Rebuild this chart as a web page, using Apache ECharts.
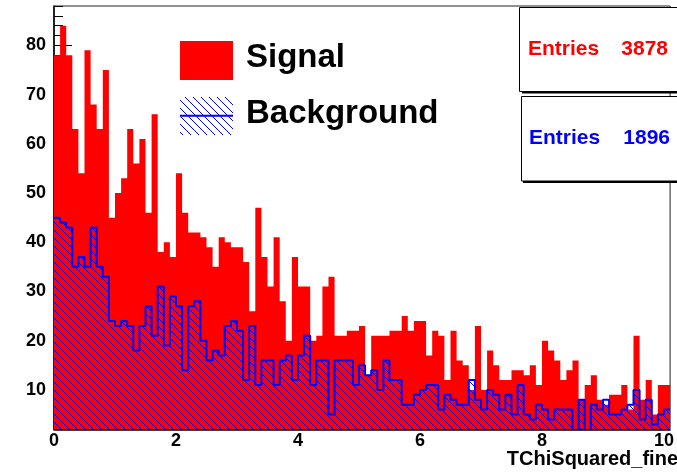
<!DOCTYPE html>
<html>
<head>
<meta charset="utf-8">
<script src="https://cdn.jsdelivr.net/npm/echarts@6/dist/echarts.min.js"></script>
<style>
html,body{margin:0;padding:0;background:#fff;}
#c{width:677px;height:473px;}
</style>
</head>
<body>
<div id="c"></div>
<script>
// ---- data ----
const binStart = 0;      // low edge of first bin
const binWidth = 0.1;    // TChiSquared_fine bin width
const signal = [
  78,84,78,63,54,79,68,63,75,45,
  50,53,63,56,61,46,66,38,40,37,
  54,46,42,42,41,39,35,41,40,39,
  39,36,26,47,37,31,41,28,20,37,
  31,31,20,21,31,33,21,21,22,22,
  23,13,21,21,21,22,22,25,22,24,
  24,17,22,21,12,22,16,15,10,23,
  10,18,15,12,12,14,14,13,15,11,
  20,18,16,12,14,16,8,11,13,8,
  7,9,9,11,6,21,8,12,5,11,
  11
];
const background = [
  45,44,43,35,37,35,43,35,33,24,
  23,24,23,18,23,27,21,31,19,29,
  27,14,27,28,20,16,18,17,23,24,
  22,12,23,11,16,16,11,16,17,12,
  17,21,11,16,16,5,16,16,16,11,
  15,13,14,10,16,12,12,7,7,9,
  10,11,11,6,9,8,7,7,12,8,
  6,10,9,6,9,5,11,5,4,7,
  6,4,6,6,6,0,8,0,7,6,
  8,5,5,6,7,10,4,8,3,5,
  6
];
const xTickLabels = [0, 2, 4, 6, 8, 10];
const yTickLabels = [10, 20, 30, 40, 50, 60, 70, 80];
const signalEntries = 3878;
const backgroundEntries = 1896;
const legendNames = ['Signal', 'Background'];
const xTitle = 'TChiSquared_fine';

// ---- build step data from bins ----
function stepData(vals) {
  const d = vals.map((v, i) => [+(binStart + i * binWidth).toFixed(4), v]);
  d.push([+(binStart + vals.length * binWidth).toFixed(4), vals[vals.length - 1]]);
  return d;
}

// hatch pattern (\\\)
function hatch(bg) {
  const s = 8;
  const cv = document.createElement('canvas');
  cv.width = s; cv.height = s;
  const ctx = cv.getContext('2d');
  if (bg) { ctx.fillStyle = bg; ctx.fillRect(0, 0, s, s); }
  ctx.strokeStyle = '#0000ff';
  ctx.lineWidth = 1;
  [-s, 0, s].forEach(o => {
    ctx.beginPath();
    ctx.moveTo(o - 1, -1);
    ctx.lineTo(o + s + 1, s + 1);
    ctx.stroke();
  });
  return cv;
}

const FONT = '"Liberation Sans", Arial, Helvetica, sans-serif';
const xMax = binStart + signal.length * binWidth;
const yMin = 2, yMax = 88;

const minorY = [];
for (let v = yMin; v <= yMax; v += 2) minorY.push(v);
const midX = [1, 3, 5, 7, 9];
const smallX = [0.5, 1.5, 2.5, 3.5, 4.5, 5.5, 6.5, 7.5, 8.5, 9.5];

const chart = echarts.init(document.getElementById('c'), null, {renderer: 'canvas'});
const grid = {left: 54, top: 6, width: 626, height: 423.3, show: true, borderColor: '#222', borderWidth: 1, backgroundColor: 'transparent'};

function xa(ticks, len, labels) {
  return {
    type: 'value', min: binStart, max: xMax, position: 'bottom',
    axisLine: {show: !!labels, onZero: false, lineStyle: {color: '#000', width: 1.5}},
    axisTick: {show: true, inside: true, length: len, customValues: ticks, lineStyle: {color: '#000', width: 1}},
    axisLabel: labels ? {show: true, customValues: ticks, margin: 3, color: '#000', fontFamily: FONT, fontWeight: 'bold', fontSize: 18} : {show: false},
    splitLine: {show: false}
  };
}
function ya(ticks, len, labels) {
  return {
    type: 'value', min: yMin, max: yMax, position: 'left',
    axisLine: {show: !!labels, onZero: false, lineStyle: {color: '#000', width: 1.5}},
    axisTick: {show: true, inside: true, length: len, customValues: ticks, lineStyle: {color: '#000', width: 1}},
    axisLabel: labels ? {show: true, customValues: ticks, margin: 8, color: '#000', fontFamily: FONT, fontWeight: 'bold', fontSize: 18} : {show: false},
    splitLine: {show: false}
  };
}

const option = {
  animation: false,
  backgroundColor: '#fff',
  grid: grid,
  xAxis: [xa(xTickLabels, 14, true), xa(midX, 7, false), xa(smallX, 3.5, false)],
  yAxis: [ya(yTickLabels, 18, true), ya(minorY, 9, false)],
  series: [
    {
      name: legendNames[0], type: 'line', step: 'end', data: stepData(signal),
      symbol: 'none', lineStyle: {width: 0, color: '#ff0000'},
      areaStyle: {color: '#ff0000', opacity: 1, origin: 'start'}, z: 1
    },
    {
      name: legendNames[1], type: 'line', step: 'end', data: stepData(background),
      symbol: 'none', lineStyle: {width: 2, color: '#0000ff'},
      areaStyle: {color: {image: hatch(null), repeat: 'repeat'}, opacity: 1, origin: 'start'}, z: 2
    }
  ],
  graphic: [
    // legend
    {type: 'rect', shape: {x: 180, y: 41, width: 53, height: 39}, style: {fill: '#ff0000'}, z: 10},
    {type: 'text', x: 246, y: 57.6, style: {text: legendNames[0], font: 'bold 33px ' + FONT, fill: '#000', verticalAlign: 'middle', align: 'left'}, z: 10},
    {type: 'rect', shape: {x: 180, y: 97, width: 53, height: 38}, style: {fill: {image: hatch('#ffffff'), repeat: 'repeat'}}, z: 10},
    {type: 'line', shape: {x1: 180, y1: 115.7, x2: 233, y2: 115.7}, style: {stroke: '#0000ff', lineWidth: 2}, z: 11},
    {type: 'text', x: 246, y: 113.6, style: {text: legendNames[1], font: 'bold 33px ' + FONT, fill: '#000', verticalAlign: 'middle', align: 'left'}, z: 10},
    // stats boxes
    {type: 'line', shape: {x1: 522, y1: 92.5, x2: 690, y2: 92.5}, style: {stroke: '#000', lineWidth: 2}, z: 10},
    {type: 'rect', shape: {x: 519.5, y: 7.5, width: 170, height: 84}, style: {fill: '#fff', stroke: '#000', lineWidth: 1}, z: 11},
    {type: 'text', x: 528, y: 49.5, style: {text: 'Entries', font: 'bold 21px ' + FONT, fill: '#ff0000', verticalAlign: 'middle', align: 'left'}, z: 12},
    {type: 'text', x: 668, y: 49.5, style: {text: String(signalEntries), font: 'bold 21px ' + FONT, fill: '#ff0000', verticalAlign: 'middle', align: 'right'}, z: 12},
    {type: 'line', shape: {x1: 523, y1: 182, x2: 690, y2: 182}, style: {stroke: '#000', lineWidth: 2}, z: 10},
    {type: 'rect', shape: {x: 521.5, y: 96.5, width: 170, height: 84.5}, style: {fill: '#fff', stroke: '#000', lineWidth: 1}, z: 11},
    {type: 'text', x: 529, y: 138, style: {text: 'Entries', font: 'bold 21px ' + FONT, fill: '#0000ff', verticalAlign: 'middle', align: 'left'}, z: 12},
    {type: 'text', x: 670, y: 138, style: {text: String(backgroundEntries), font: 'bold 21px ' + FONT, fill: '#0000ff', verticalAlign: 'middle', align: 'right'}, z: 12},
    // x title
    {type: 'text', x: 678, y: 459.8, style: {text: xTitle, font: 'bold 20px ' + FONT, fill: '#000', verticalAlign: 'middle', align: 'right'}, z: 12}
  ]
};
chart.setOption(option);
</script>
</body>
</html>
